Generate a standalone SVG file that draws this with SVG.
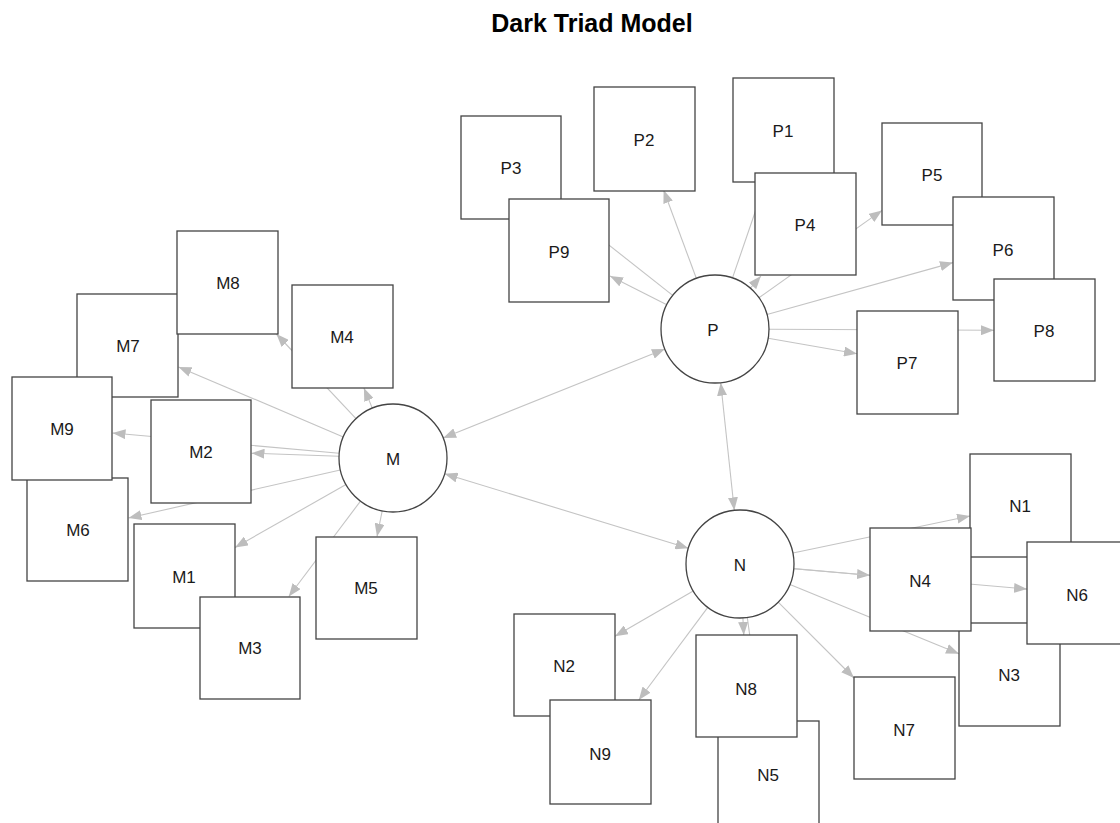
<svg xmlns="http://www.w3.org/2000/svg" width="1120" height="823" viewBox="0 0 1120 823">
  <style>
    .box { fill: #ffffff; stroke: #444444; stroke-width: 1.3; }
    .lat { fill: #ffffff; stroke: #444444; stroke-width: 1.3; }
    .lbl { font-family: "Liberation Sans", Arial, sans-serif; font-size: 17px; fill: #1a1a1a; text-anchor: middle; }
    .title { font-family: "Liberation Sans", Arial, sans-serif; font-size: 25px; font-weight: bold; fill: #000000; text-anchor: middle; }
    .edge { stroke: #c4c4c4; stroke-width: 1.1; fill: none; marker-end: url(#ah); }
    .cov { stroke: #c4c4c4; stroke-width: 1.1; fill: none; marker-start: url(#ah); marker-end: url(#ah); }
  </style>
  <defs>
    <marker id="ah" viewBox="0 0 13 10" refX="13" refY="5" markerWidth="13" markerHeight="10" markerUnits="userSpaceOnUse" orient="auto-start-reverse">
      <path d="M0,0 L13,5 L0,10 Z" fill="#bdbdbd"/>
    </marker>
  </defs>

  <rect width="1120" height="823" fill="#ffffff"/>
  <text class="title" x="592" y="32">Dark Triad Model</text>

  <!-- connectors: loadings and latent covariances, drawn under the nodes -->
  <g id="edges">
    <line class="edge" x1="346.0" y1="484.6" x2="235.0" y2="547.4"/>
    <line class="edge" x1="339.0" y1="456.2" x2="251.5" y2="453.2"/>
    <line class="edge" x1="360.5" y1="501.1" x2="288.8" y2="596.5"/>
    <line class="edge" x1="372.3" y1="408.1" x2="363.9" y2="388.0"/>
    <line class="edge" x1="382.2" y1="510.9" x2="377.0" y2="536.5"/>
    <line class="edge" x1="340.3" y1="470.0" x2="128.5" y2="518.0"/>
    <line class="edge" x1="343.3" y1="436.9" x2="178.5" y2="366.9"/>
    <line class="edge" x1="356.0" y1="418.7" x2="276.4" y2="334.0"/>
    <line class="edge" x1="339.2" y1="453.2" x2="112.5" y2="433.0"/>

    <line class="edge" x1="732.5" y1="277.9" x2="765.8" y2="181.0"/>
    <line class="edge" x1="696.3" y1="278.3" x2="663.6" y2="190.0"/>
    <line class="edge" x1="672.7" y1="295.4" x2="561.5" y2="207.6"/>
    <line class="edge" x1="750.4" y1="288.2" x2="760.9" y2="276.0"/>
    <line class="edge" x1="759.0" y1="297.7" x2="882.0" y2="210.4"/>
    <line class="edge" x1="767.0" y1="314.5" x2="953.0" y2="262.6"/>
    <line class="edge" x1="768.2" y1="338.3" x2="857.0" y2="353.7"/>
    <line class="edge" x1="769.0" y1="329.2" x2="994.0" y2="330.3"/>
    <line class="edge" x1="666.8" y1="304.7" x2="610.0" y2="276.0"/>

    <line class="edge" x1="792.9" y1="553.0" x2="970.0" y2="516.0"/>
    <line class="edge" x1="693.2" y1="591.0" x2="615.0" y2="636.3"/>
    <line class="edge" x1="790.0" y1="584.5" x2="959.0" y2="653.8"/>
    <line class="edge" x1="793.8" y1="568.6" x2="870.0" y2="575.2"/>
    <line class="edge" x1="747.3" y1="617.5" x2="761.5" y2="721.0"/>
    <line class="edge" x1="793.8" y1="568.7" x2="1027.0" y2="589.1"/>
    <line class="edge" x1="778.2" y1="602.2" x2="854.0" y2="678.0"/>
    <line class="edge" x1="742.9" y1="617.9" x2="743.8" y2="635.0"/>
    <line class="edge" x1="707.8" y1="607.3" x2="638.8" y2="700.0"/>

    <line class="cov" x1="443.1" y1="437.9" x2="664.9" y2="349.1"/>
    <line class="cov" x1="444.6" y1="473.8" x2="688.4" y2="548.2"/>
    <line class="cov" x1="720.7" y1="382.7" x2="734.3" y2="510.3"/>
  </g>

  <!-- Machiavellianism cluster -->
  <g id="M7"><rect class="box" x="77" y="294" width="101" height="103"/><text class="lbl" x="128" y="352">M7</text></g>
  <g id="M6"><rect class="box" x="27" y="478" width="101" height="103"/><text class="lbl" x="78" y="536">M6</text></g>
  <g id="M9"><rect class="box" x="12" y="377" width="100" height="103"/><text class="lbl" x="62" y="435">M9</text></g>
  <g id="M8"><rect class="box" x="177" y="231" width="101" height="103"/><text class="lbl" x="228" y="289">M8</text></g>
  <g id="M1"><rect class="box" x="134" y="524" width="101" height="104"/><text class="lbl" x="184" y="583">M1</text></g>
  <g id="M3"><rect class="box" x="200" y="597" width="100" height="102"/><text class="lbl" x="250" y="654">M3</text></g>
  <g id="M2"><rect class="box" x="151" y="400" width="100" height="103"/><text class="lbl" x="201" y="458">M2</text></g>
  <g id="M4"><rect class="box" x="292" y="285" width="101" height="103"/><text class="lbl" x="342" y="343">M4</text></g>
  <g id="M5"><rect class="box" x="316" y="537" width="101" height="102"/><text class="lbl" x="366" y="594">M5</text></g>
  <g id="M"><circle class="lat" cx="393" cy="458" r="54"/><text class="lbl" x="393" y="465">M</text></g>

  <!-- Psychopathy cluster -->
  <g id="P1"><rect class="box" x="733" y="78" width="101" height="104"/><text class="lbl" x="783" y="137">P1</text></g>
  <g id="P3"><rect class="box" x="461" y="116" width="100" height="103"/><text class="lbl" x="511" y="174">P3</text></g>
  <g id="P5"><rect class="box" x="882" y="123" width="100" height="102"/><text class="lbl" x="932" y="181">P5</text></g>
  <g id="P2"><rect class="box" x="594" y="87" width="101" height="104"/><text class="lbl" x="644" y="146">P2</text></g>
  <g id="P4"><rect class="box" x="755" y="173" width="101" height="102"/><text class="lbl" x="805" y="231">P4</text></g>
  <g id="P9"><rect class="box" x="509" y="199" width="100" height="103"/><text class="lbl" x="559" y="258">P9</text></g>
  <g id="P6"><rect class="box" x="953" y="197" width="101" height="103"/><text class="lbl" x="1003" y="256">P6</text></g>
  <g id="P8"><rect class="box" x="994" y="279" width="101" height="102"/><text class="lbl" x="1044" y="337">P8</text></g>
  <g id="P7"><rect class="box" x="857" y="311" width="101" height="103"/><text class="lbl" x="907" y="369">P7</text></g>
  <g id="P"><circle class="lat" cx="715" cy="329" r="54"/><text class="lbl" x="713" y="336">P</text></g>

  <!-- Narcissism cluster -->
  <g id="N1"><rect class="box" x="970" y="454" width="101" height="103"/><text class="lbl" x="1020" y="512">N1</text></g>
  <g id="N3"><rect class="box" x="959" y="623" width="101" height="103"/><text class="lbl" x="1009" y="681">N3</text></g>
  <g id="N2"><rect class="box" x="514" y="614" width="101" height="102"/><text class="lbl" x="564" y="672">N2</text></g>
  <g id="N5"><rect class="box" x="718" y="721" width="101" height="103"/><text class="lbl" x="768" y="781">N5</text></g>
  <g id="N4"><rect class="box" x="870" y="528" width="101" height="103"/><text class="lbl" x="920" y="587">N4</text></g>
  <g id="N6"><rect class="box" x="1027" y="542" width="101" height="102"/><text class="lbl" x="1077" y="601">N6</text></g>
  <g id="N7"><rect class="box" x="854" y="677" width="101" height="102"/><text class="lbl" x="904" y="736">N7</text></g>
  <g id="N8"><rect class="box" x="696" y="635" width="101" height="102"/><text class="lbl" x="746" y="695">N8</text></g>
  <g id="N9"><rect class="box" x="550" y="700" width="101" height="104"/><text class="lbl" x="600" y="760">N9</text></g>
  <g id="N"><circle class="lat" cx="740" cy="564" r="54"/><text class="lbl" x="740" y="571">N</text></g>
</svg>
